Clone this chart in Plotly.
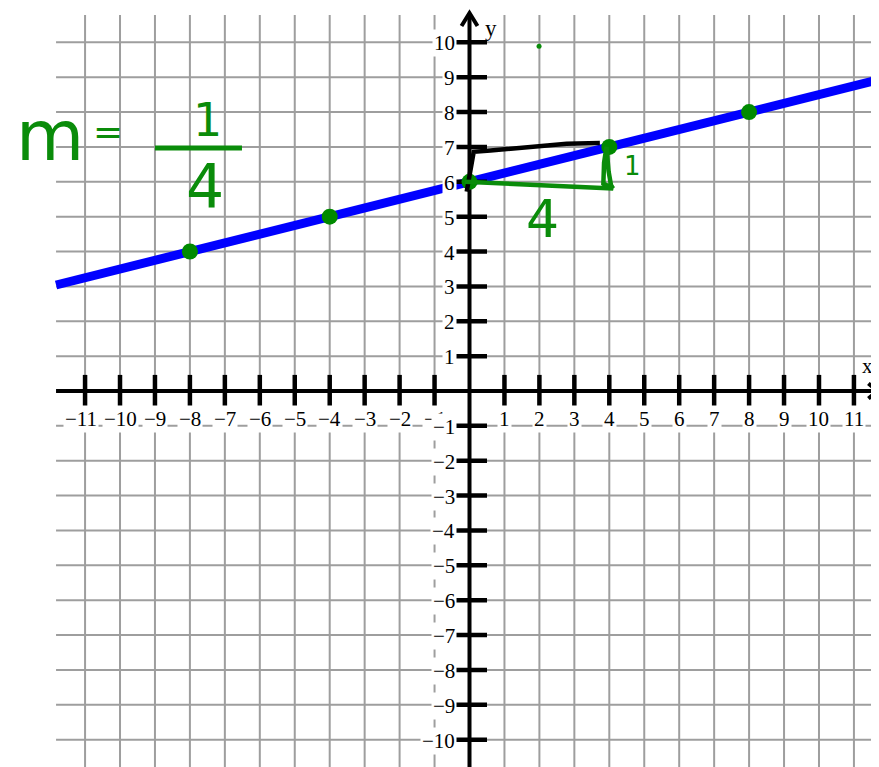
import plotly.graph_objects as go

# ---- data ----
x_ticks = list(range(-11, 12))
y_ticks = list(range(-10, 11))
x_tick_labels = ["\u2212" + str(-v) if v < 0 else str(v) for v in x_ticks]
y_tick_labels = ["\u2212" + str(-v) if v < 0 else str(v) for v in y_ticks]

line_x = [-11.83, 11.72]
line_y = [3.04, 8.93]

pts_x = [-8, -4, 0, 4, 8]
pts_y = [4, 5, 6, 7, 8]

stray_x = [1.99]
stray_y = [9.89]

# handwritten slope triangle strokes
rise_x = [-0.08, -0.02, 0.04, 0.12, 0.6, 1.35, 2.2, 2.78, 3.73]
rise_y = [5.72, 6.1, 6.55, 6.86, 6.90, 6.96, 7.05, 7.09, 7.11]
run_x = [-0.13, 2.02, 4.11, 3.83, 3.85, 3.92, 3.98, 4.05, 4.11]
run_y = [6.00, 5.91, 5.81, 5.95, 6.55, 7.00, 6.30, 5.90, 5.81]

# grid extents
GX0, GX1 = -11.83, 11.72
GY0, GY1 = -10.8, 10.78
# page body has an 8px margin: figure is 871x759 starting at page (8,8)
XR = [-13.205, 11.717]
YR = [-10.783, 10.984]

GRID = "rgb(158,158,158)"
GREEN = "#0a8c0a"
PT_GREEN = "#008a00"
SERIF = "Liberation Serif, Times New Roman, serif"
HAND = "DejaVu Sans, sans-serif"

fig = go.Figure()

# grid lines
gx, gy = [], []
for v in x_ticks:
    gx += [v, v, None]
    gy += [GY0, GY1, None]
for v in y_ticks:
    gx += [GX0, GX1, None]
    gy += [v, v, None]
fig.add_trace(go.Scatter(x=gx, y=gy, mode="lines",
                         line=dict(color=GRID, width=2), hoverinfo="skip"))

# blue line
fig.add_trace(go.Scatter(x=line_x, y=line_y, mode="lines",
                         line=dict(color="#0000ff", width=9), hoverinfo="skip"))

# axes
fig.add_trace(go.Scatter(x=[GX0, 11.6, None, 0, 0], y=[0, 0, None, GY0, 10.8],
                         mode="lines", line=dict(color="black", width=4),
                         hoverinfo="skip"))
# ticks
xt = [v for v in x_ticks if v != 0]
yt = [v for v in y_ticks if v != 0]
fig.add_trace(go.Scatter(x=xt, y=[0] * len(xt), mode="markers",
                         marker=dict(symbol="line-ns", size=23,
                                     line=dict(color="black", width=4.5)),
                         hoverinfo="skip"))
fig.add_trace(go.Scatter(x=[0] * len(yt), y=yt, mode="markers",
                         marker=dict(symbol="line-ew", size=25,
                                     line=dict(color="black", width=4.5)),
                         hoverinfo="skip"))

# green points
fig.add_trace(go.Scatter(x=pts_x, y=pts_y, mode="markers",
                         marker=dict(color=PT_GREEN, size=16), hoverinfo="skip"))
fig.add_trace(go.Scatter(x=stray_x, y=stray_y, mode="markers",
                         marker=dict(color=GREEN, size=5), hoverinfo="skip"))

# handwritten strokes
fig.add_trace(go.Scatter(x=rise_x, y=rise_y, mode="lines",
                         line=dict(color="black", width=4.5),
                         hoverinfo="skip"))
fig.add_trace(go.Scatter(x=run_x, y=run_y, mode="lines",
                         line=dict(color=GREEN, width=4.5), hoverinfo="skip"))

annotations = []
# x tick labels (on y=-1 row)
for v, t in zip(x_ticks, x_tick_labels):
    if v == 0:
        continue
    annotations.append(dict(x=v, y=-1, text=t, showarrow=False, yshift=7,
                            xshift=-4 if v == -11 else 0,
                            font=dict(family=SERIF, size=21, color="black"),
                            bgcolor="white", borderpad=1, xanchor="center"))
# y tick labels
for v, t in zip(y_ticks, y_tick_labels):
    if v == 0:
        continue
    annotations.append(dict(x=-0.36, y=v, text=t, showarrow=False, yshift=-1,
                            font=dict(family=SERIF, size=21, color="black"),
                            bgcolor="white", borderpad=1, xanchor="right"))
# axis names
annotations.append(dict(x=11.38, y=0.72, text="x", showarrow=False,
                        font=dict(family=SERIF, size=21, color="black")))
annotations.append(dict(x=0.62, y=10.4, text="y", showarrow=False,
                        font=dict(family=SERIF, size=23, color="black")))

# handwritten text
annotations.append(dict(x=-12.0, y=7.3, text="m", showarrow=False,
                        font=dict(family=HAND, size=70, color=GREEN)))
annotations.append(dict(x=-10.34, y=7.43, text="=", showarrow=False,
                        font=dict(family=HAND, size=36, color=GREEN)))
annotations.append(dict(x=-7.51, y=6.93, text="1", showarrow=False,
                        yanchor="bottom",
                        font=dict(family=HAND, size=46, color=GREEN)))
annotations.append(dict(x=-7.57, y=6.93, text="4", showarrow=False,
                        yanchor="top",
                        font=dict(family=HAND, size=60, color=GREEN)))
annotations.append(dict(x=2.10, y=4.93, text="4", showarrow=False,
                        font=dict(family=HAND, size=52, color=GREEN)))
annotations.append(dict(x=4.65, y=6.45, text="1", showarrow=False,
                        font=dict(family=HAND, size=26, color=GREEN)))

shapes = [
    # fraction bar
    dict(type="line", x0=-9.0, x1=-6.51, y0=6.97, y1=6.97, xref="x", yref="y",
         line=dict(color=GREEN, width=5), layer="above"),
    # arrowheads
    dict(type="path", xref="x", yref="y", xsizemode="pixel", ysizemode="pixel",
         xanchor=11.67, yanchor=0, path="M -9,-7.5 L 0,0 L -9,7.5",
         line=dict(color="black", width=4), layer="above"),
    dict(type="path", xref="x", yref="y", xsizemode="pixel", ysizemode="pixel",
         xanchor=0, yanchor=10.84, path="M -8,-13 L 0,0 L 8,-13",
         line=dict(color="black", width=4), layer="above"),
]

fig.update_layout(
    width=871, height=759,
    margin=dict(l=0, r=0, t=0, b=0),
    paper_bgcolor="white", plot_bgcolor="white",
    showlegend=False,
    xaxis=dict(range=XR, visible=False, fixedrange=True),
    yaxis=dict(range=YR, visible=False, fixedrange=True),
    annotations=annotations,
    shapes=shapes,
)

fig.write_html("out.html")
